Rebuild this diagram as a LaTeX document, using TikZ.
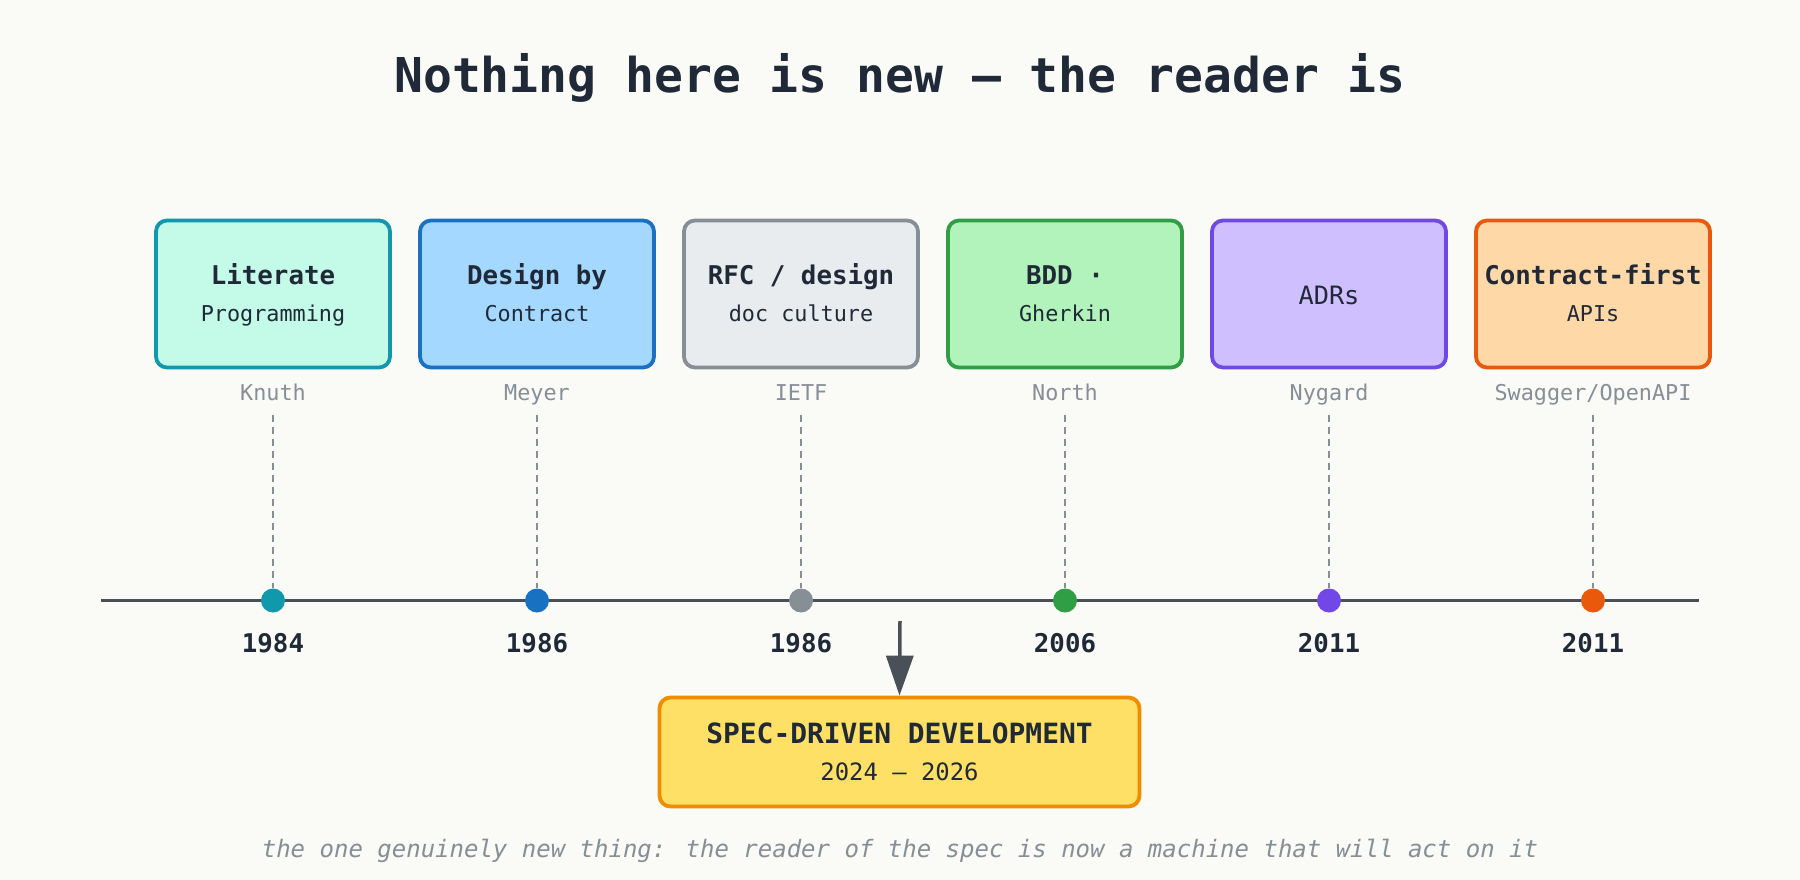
\documentclass[tikz,border=0pt]{standalone}
\usepackage{fontspec}
\setmainfont{DejaVu Sans Mono}
\usetikzlibrary{arrows.meta}
\definecolor{bg}{HTML}{FAFAF7}
\definecolor{ink}{HTML}{1F2937}
\definecolor{muted}{HTML}{868E96}
\definecolor{axis}{HTML}{495057}
\definecolor{k1f}{HTML}{C3FAE8}\definecolor{k1d}{HTML}{1098AD}
\definecolor{k2f}{HTML}{A5D8FF}\definecolor{k2d}{HTML}{1971C2}
\definecolor{k3f}{HTML}{E9ECEF}\definecolor{k3d}{HTML}{868E96}
\definecolor{k4f}{HTML}{B2F2BB}\definecolor{k4d}{HTML}{2F9E44}
\definecolor{k5f}{HTML}{D0BFFF}\definecolor{k5d}{HTML}{7048E8}
\definecolor{k6f}{HTML}{FFD8A8}\definecolor{k6d}{HTML}{E8590C}
\definecolor{sdf}{HTML}{FFE066}\definecolor{sdd}{HTML}{F08C00}
\tikzset{
  erabox/.style={draw, rounded corners=11pt, line width=3.8pt, minimum width=234pt, minimum height=147pt, inner sep=0pt},
  headtxt/.style={anchor=base, text=ink, font=\fontsize{25.8}{30}\selectfont\bfseries, inner sep=0pt},
  subtxt/.style={anchor=base, text=ink, font=\fontsize{21.8}{26}\selectfont, inner sep=0pt},
  authtxt/.style={anchor=base, text=muted, font=\fontsize{21.8}{26}\selectfont, inner sep=0pt},
  yeartxt/.style={anchor=base, text=ink, font=\fontsize{25.8}{30}\selectfont\bfseries, inner sep=0pt},
  guide/.style={draw=muted, line width=1.7pt, dash pattern=on 7pt off 5pt},
  tldot/.style={circle, minimum size=24pt, inner sep=0pt},
}
\begin{document}
\begin{tikzpicture}[x=1pt,y=-1pt]
\fill[bg] (0,0) rectangle (1800,880);
\useasboundingbox (0,0) rectangle (1800,880);

\node[anchor=base, text=ink, font=\fontsize{48}{56}\selectfont\bfseries, inner sep=0pt] (title) at (900,93) {Nothing here is new — the reader is};

\coordinate (tlL) at (101,600.5);
\coordinate (tlR) at (1699,600.5);
\draw[axis, line width=3.8pt] (tlL) -- (tlR);

\foreach \n/\x/\cc/\ta/\tb/\au/\yr in {
  1/273/k1/{Literate}/{Programming}/{Knuth}/1984,
  2/537/k2/{Design by}/{Contract}/{Meyer}/1986,
  3/801/k3/{RFC / design}/{doc culture}/{IETF}/1986,
  4/1065/k4/{BDD ·}/{Gherkin}/{North}/2006,
  5/1329/k5/{}/{}/{Nygard}/2011,
  6/1593/k6/{Contract-first}/{APIs}/{Swagger/OpenAPI}/2011}{
  \node[erabox, fill=\cc f, draw=\cc d] (box\n) at (\x,294) {};
  \node[headtxt] (head\n) at (\x,284.5) {\ta};
  \node[subtxt] (sub\n) at (\x,321.5) {\tb};
  \node[authtxt] (auth\n) at (\x,400.5) {\au};
  \coordinate (top\n) at (\x,415);
  \node[tldot, fill=\cc d] (dot\n) at (\x,600.5) {};
  \draw[guide] (top\n) -- (dot\n.north);
  \node[yeartxt] (year\n) at (\x,652.5) {\yr};
}
\node[anchor=base, text=ink, font=\fontsize{25.3}{30}\selectfont, inner sep=0pt] (adr) at (1329,304) {ADRs};

\node[draw=sdd, fill=sdf, rounded corners=11pt, line width=3.8pt, minimum width=480pt, minimum height=109pt, inner sep=0pt] (sdd) at (899.5,752) {};
\node[anchor=base, text=ink, font=\fontsize{27.9}{32}\selectfont\bfseries, inner sep=0pt] (sddtitle) at (899.5,743) {SPEC-DRIVEN DEVELOPMENT};
\node[anchor=base, text=ink, font=\fontsize{23.9}{28}\selectfont, inner sep=0pt] (sddyears) at (899.5,780.5) {2024 — 2026};

\coordinate (arrtop) at (900,621);
\draw[axis, line width=3.5pt, -{Triangle[width=27pt,length=40pt]}] (arrtop) -- (sdd.north);

\node[anchor=base, text=muted, font=\fontsize{24}{28}\selectfont\itshape, inner sep=0pt] (foot) at (900,857) {the one genuinely new thing: the reader of the spec is now a machine that will act on it};
\end{tikzpicture}
\end{document}
